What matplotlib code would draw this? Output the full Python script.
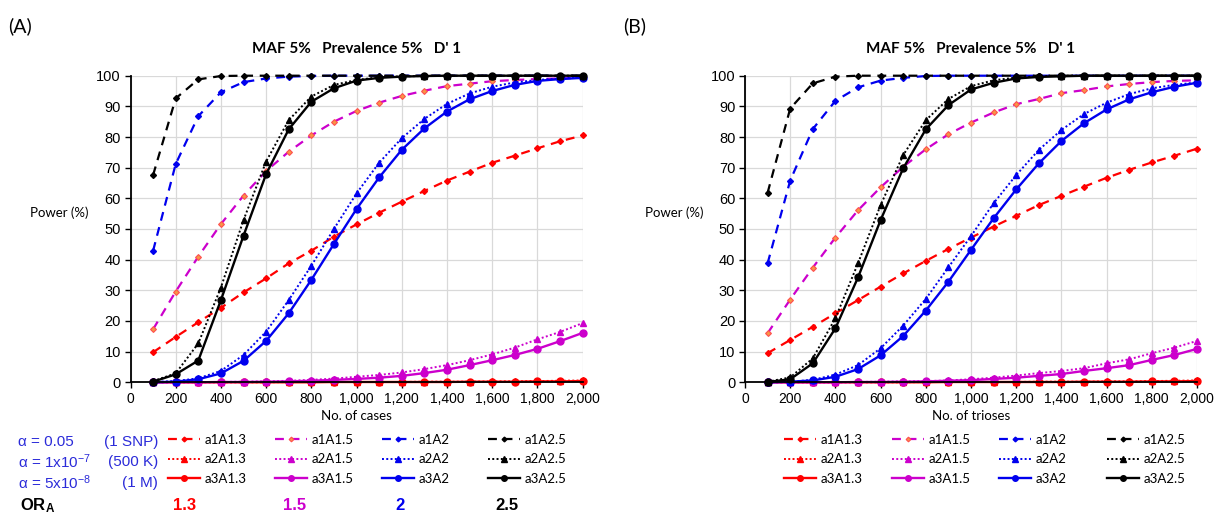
import matplotlib.pyplot as plt
from matplotlib.lines import Line2D

plt.rcParams['font.family'] = ['Liberation Sans', 'DejaVu Sans']
plt.rcParams['mathtext.default'] = 'regular'

# sample sizes (cases / trioses)
n = [100, 200, 300, 400, 500, 600, 700, 800, 900, 1000,
     1100, 1200, 1300, 1400, 1500, 1600, 1700, 1800, 1900, 2000]

# ---- panel A : cases ----
A_a1A13 = [9.8, 14.8, 19.6, 24.3, 29.3, 33.9, 38.8, 42.9, 47.5, 51.5,
           55.3, 58.9, 62.4, 65.8, 68.7, 71.6, 73.9, 76.3, 78.6, 80.5]
A_a1A15 = [17.3, 29.6, 41.0, 51.6, 60.9, 68.9, 75.2, 80.5, 85.0, 88.5,
           91.2, 93.4, 95.1, 96.6, 97.4, 98.2, 98.6, 98.9, 99.1, 99.3]
A_a1A2 = [42.9, 71.2, 86.8, 94.6, 97.9, 99.1, 99.7, 99.9, 100, 100,
          100, 100, 100, 100, 100, 100, 100, 100, 100, 100]
A_a1A25 = [67.6, 92.6, 98.8, 99.9, 100, 100, 100, 100, 100, 100,
           100, 100, 100, 100, 100, 100, 100, 100, 100, 100]
A_a2A13 = [0.0, 0.0, 0.0, 0.0, 0.0, 0.0, 0.1, 0.1, 0.1, 0.1,
           0.1, 0.1, 0.2, 0.2, 0.2, 0.3, 0.3, 0.4, 0.5, 0.6]
A_a2A15 = [0.0, 0.0, 0.1, 0.1, 0.2, 0.3, 0.5, 0.8, 1.2, 1.8,
           2.4, 3.2, 4.3, 5.6, 7.2, 9.1, 11.3, 14.0, 16.4, 19.3]
A_a2A2 = [0.1, 0.4, 1.3, 3.7, 8.9, 16.5, 26.8, 38.0, 50.0, 61.6,
          71.6, 79.6, 85.9, 90.8, 94.2, 96.4, 97.8, 98.6, 99.1, 99.5]
A_a2A25 = [0.4, 2.9, 12.7, 30.9, 52.9, 72.0, 85.5, 93.2, 97.0, 98.6,
           99.5, 99.8, 99.9, 100, 100, 100, 100, 100, 100, 100]
A_a3A13 = [0.0, 0.0, 0.0, 0.0, 0.0, 0.0, 0.0, 0.0, 0.1, 0.1,
           0.1, 0.1, 0.1, 0.1, 0.2, 0.2, 0.2, 0.3, 0.3, 0.4]
A_a3A15 = [0.0, 0.0, 0.0, 0.1, 0.1, 0.2, 0.3, 0.5, 0.8, 1.1,
           1.5, 2.1, 3.0, 4.1, 5.6, 7.2, 8.9, 10.9, 13.4, 16.1]
A_a3A2 = [0.0, 0.2, 1.0, 2.9, 7.0, 13.5, 22.5, 33.4, 45.1, 56.5,
          66.8, 75.8, 82.8, 88.3, 92.3, 95.0, 97.0, 98.3, 98.9, 99.3]
A_a3A25 = [0.2, 2.6, 7.1, 26.8, 47.8, 67.9, 82.5, 91.5, 95.9, 98.4,
           99.3, 99.7, 99.9, 100, 100, 100, 100, 100, 100, 100]

# ---- panel B : trioses ----
B_a1A13 = [9.5, 13.8, 18.1, 22.5, 26.8, 31.2, 35.5, 39.6, 43.5, 47.2,
           50.8, 54.3, 57.8, 60.8, 63.8, 66.7, 69.3, 71.7, 73.9, 76.2]
B_a1A15 = [16.0, 27.0, 37.4, 47.2, 56.1, 63.6, 70.3, 76.0, 80.9, 84.7,
           88.0, 90.7, 92.4, 94.3, 95.3, 96.5, 97.3, 97.9, 98.3, 98.5]
B_a1A2 = [38.8, 65.8, 82.6, 91.8, 96.2, 98.4, 99.3, 99.9, 100, 100,
          100, 100, 100, 100, 100, 100, 100, 100, 100, 100]
B_a1A25 = [61.8, 89.3, 97.5, 99.7, 100, 100, 100, 100, 100, 100,
           100, 100, 100, 100, 100, 100, 100, 100, 100, 100]
B_a2A13 = [0.0, 0.0, 0.0, 0.0, 0.0, 0.0, 0.0, 0.1, 0.1, 0.1,
           0.1, 0.1, 0.2, 0.2, 0.2, 0.3, 0.3, 0.4, 0.5, 0.6]
B_a2A15 = [0.0, 0.0, 0.0, 0.0, 0.1, 0.2, 0.3, 0.4, 0.6, 1.0,
           1.5, 2.2, 3.0, 3.7, 4.6, 6.2, 7.5, 9.5, 11.3, 13.5]
B_a2A2 = [0.1, 0.2, 0.8, 2.5, 5.6, 11.1, 18.5, 27.2, 37.5, 47.7,
          58.4, 67.6, 75.8, 82.3, 87.5, 91.2, 94.0, 95.9, 97.0, 97.8]
B_a2A25 = [0.2, 1.6, 7.8, 20.9, 38.8, 57.8, 74.1, 85.5, 92.4, 96.6,
           98.5, 99.4, 99.8, 100, 100, 100, 100, 100, 100, 100]
B_a3A13 = [0.0, 0.0, 0.0, 0.0, 0.0, 0.0, 0.0, 0.0, 0.1, 0.1,
           0.1, 0.1, 0.1, 0.1, 0.2, 0.2, 0.2, 0.3, 0.3, 0.4]
B_a3A15 = [0.0, 0.0, 0.0, 0.0, 0.1, 0.1, 0.2, 0.3, 0.5, 0.7,
           1.1, 1.5, 2.1, 2.7, 3.7, 4.6, 5.6, 7.3, 8.9, 10.9]
B_a3A2 = [0.0, 0.2, 0.6, 1.8, 4.3, 8.8, 15.1, 23.4, 32.8, 43.2,
          53.5, 62.9, 71.4, 78.7, 84.5, 89.0, 92.3, 94.6, 96.4, 97.7]
B_a3A25 = [0.1, 1.0, 6.2, 17.6, 34.2, 52.9, 69.8, 82.5, 90.4, 95.5,
           97.7, 99.1, 99.6, 99.8, 100, 100, 100, 100, 100, 100]

or_labels = ['1.3', '1.5', '2', '2.5']
or_colors = ['#ff0000', '#cc00cc', '#0000ee', '#000000']
alpha_text = ['\u03b1 = 0.05', '\u03b1 = 1x10$^{-7}$', '\u03b1 = 5x10$^{-8}$']
alpha_snps = ['(1 SNP)', '(500 K)', '(1 M)']
blue_txt = '#2b2bd9'

panels = [
    dict(tag='(A)', xlabel='No. of cases', left=130.5,
         data=[[A_a1A13, A_a2A13, A_a3A13], [A_a1A15, A_a2A15, A_a3A15],
               [A_a1A2, A_a2A2, A_a3A2], [A_a1A25, A_a2A25, A_a3A25]],
         leg_x=[168, 275, 382, 488]),
    dict(tag='(B)', xlabel='No. of trioses', left=745,
         data=[[B_a1A13, B_a2A13, B_a3A13], [B_a1A15, B_a2A15, B_a3A15],
               [B_a1A2, B_a2A2, B_a3A2], [B_a1A25, B_a2A25, B_a3A25]],
         leg_x=[784, 892, 999, 1107]),
]

W, H = 1217, 516
fig = plt.figure(figsize=(W / 100, H / 100), dpi=100)


def style(a, color):
    # a = 0 dashed (alpha 0.05), 1 dotted (1e-7), 2 solid (5e-8)
    if a == 0:
        kw = dict(ls=(0, (4, 3)), lw=1.6, marker='D', ms=3.0)
        if color == '#cc00cc':
            kw.update(mfc='#f79646', mec='#ff5050', mew=0.8)
    elif a == 1:
        kw = dict(ls=(0, (1, 1.2)), lw=1.4, marker='^', ms=5)
    else:
        kw = dict(ls='-', lw=1.7, marker='o', ms=5)
    kw.setdefault('mfc', color)
    kw.setdefault('mec', color)
    return kw


for p in panels:
    ax = fig.add_axes([p['left'] / W, 1 - 382.3 / H, 452 / W, 306.6 / H])
    handles = []
    for k, col in enumerate(or_colors):
        hs = []
        for a in range(3):
            y = p['data'][k][a]
            h, = ax.plot(n, y, color=col, clip_on=False,
                         label='a%dA%s' % (a + 1, or_labels[k]), **style(a, col))
            hs.append(h)
        handles.append(hs)

    ax.set_xlim(0, 2000)
    ax.set_ylim(0, 100)
    ax.set_xticks(range(0, 2001, 200))
    ax.set_xticklabels(['{:,}'.format(v) for v in range(0, 2001, 200)])
    ax.set_yticks(range(0, 101, 10))
    ax.tick_params(axis='y', labelsize=10.5, length=4, width=1, direction='out', pad=3)
    ax.tick_params(axis='x', labelsize=10, length=4, width=1, direction='out', pad=3)
    ax.grid(True, color='#d9d9d9', lw=0.9)
    ax.set_axisbelow(True)
    for s in ['top', 'right']:
        ax.spines[s].set_visible(False)
    for s in ['left', 'bottom']:
        ax.spines[s].set_linewidth(1.3)

    cx = (p['left'] + 452 / 2) / W
    fig.text(cx, 1 - 49 / H, "MAF 5%   Prevalence 5%   D' 1", ha='center', va='center',
             fontsize=11, fontweight='bold', family=['Lato', 'DejaVu Sans'])
    fig.text(cx, 1 - 416 / H, p['xlabel'], ha='center', va='center',
             fontsize=9.5, family=['Lato', 'DejaVu Sans'])
    fig.text((p['left'] - 71) / W, 1 - 213 / H, 'Power (%)', ha='center', va='center',
             fontsize=9.5, family=['Lato', 'DejaVu Sans'])
    fig.text((p['left'] - 122) / W, 1 - 26 / H, p['tag'], ha='left', va='center',
             fontsize=14, family=['Lato', 'DejaVu Sans'])

    for k in range(4):
        fig.legend(handles=handles[k], loc='upper left',
                   bbox_to_anchor=(p['leg_x'][k] / W, 1 - 434 / H),
                   frameon=False, prop={'family': 'Lato', 'size': 9.5},
                   handlelength=2.4, handletextpad=0.35, labelspacing=0.55,
                   borderpad=0, borderaxespad=0, markerscale=0.8)

# left-hand labels of panel A legend
for i, ypx in enumerate([442, 462, 483]):
    fig.text(18 / W, 1 - ypx / H, alpha_text[i], ha='left', va='center',
             fontsize=11, color=blue_txt)
    fig.text(158 / W, 1 - ypx / H, alpha_snps[i], ha='right', va='center',
             fontsize=11, color=blue_txt)

fig.text(20 / W, 1 - 506 / H, 'OR$_A$', ha='left', va='center',
         fontsize=12, fontweight='bold', color='black')
for k, xc in enumerate([185, 295, 400, 507]):
    fig.text(xc / W, 1 - 506 / H, or_labels[k], ha='center', va='center',
             fontsize=12, fontweight='bold', color=or_colors[k])

fig.savefig('out.png', dpi=100)
